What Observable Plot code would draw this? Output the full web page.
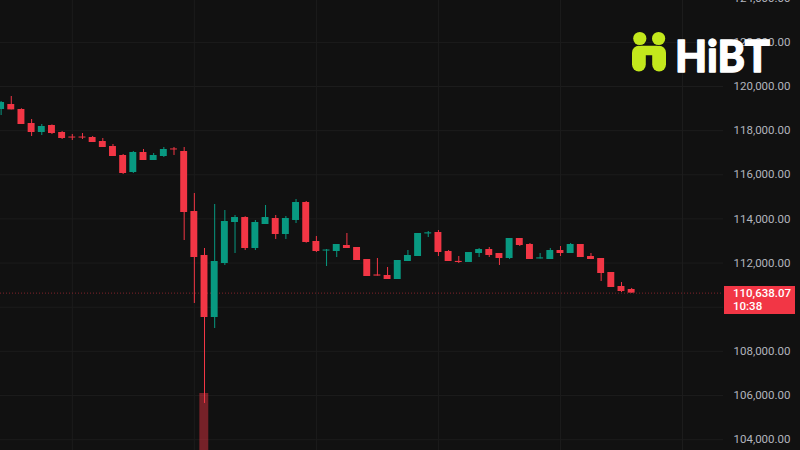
<!DOCTYPE html>
<html>
<head>
<meta charset="utf-8">
<script src="https://cdn.jsdelivr.net/npm/d3@7"></script>
<script src="https://cdn.jsdelivr.net/npm/@observablehq/plot@0.6"></script>
<style>
  html, body { margin: 0; padding: 0; background: #111111; overflow: hidden; }
  #wrap { position: relative; width: 800px; height: 450px; }
  #wrap svg { display: block; }
  #price-tag { position: absolute; left: 724px; width: 71px; height: 28px; background: #f23645;
    color: #ffffff; font-family: Roboto, "Liberation Sans", sans-serif; font-size: 11.5px; font-weight: 500;
    line-height: 13px; box-sizing: border-box; padding: 1px 0 0 9px; }
  #logo { position: absolute; left: 0; top: 0; pointer-events: none; }
</style>
</head>
<body>
<div id="wrap"></div>
<script>
// Candle data (5-minute style candles)
const opens  = [118958,119184,118958,118324,117916,118233,117916,117710,117710,117689,117508,117281,116874,116103,117010,116647,116828,117170,117055,114336,112343,109533,111980,113838,114064,112660,113747,114019,113294,113929,114744,112977,112545,112524,112796,112705,112161,111460,111437,111255,112071,112297,113320,113385,112524,112075,112026,112433,112614,112433,112207,113113,112841,112185,112161,112569,112433,112841,112297,112207,111572,110938,110802];
const highs  = [119320,119547,118990,118505,118278,118260,117961,117825,117870,117734,117644,117372,116919,117055,117146,116965,117236,117236,117236,115152,112660,114653,114382,114155,114100,113929,114608,114155,114110,114880,114790,113204,112614,112841,113340,112705,112161,112207,111799,112116,112569,113340,113430,113476,112569,112297,112478,112660,112705,112433,113113,113113,112886,112433,112660,112750,112886,112841,112433,112207,111572,111119,110850];
const lows   = [118686,118940,118278,117734,117780,117825,117598,117553,117598,117463,117236,116828,116013,116058,116647,116647,116783,116874,113022,110168,105637,109035,111890,112433,112569,112569,113747,113068,113068,113793,112900,112478,111844,112252,112660,112116,111391,111410,111255,111255,112071,112297,113158,112297,112071,111980,112026,112252,112252,111890,112161,112750,112161,112185,112161,112297,112433,112252,112161,111165,110893,110666,110638.07];
const closes = [119275,118940,118278,117916,118188,117870,117644,117665,117665,117463,117236,116828,116058,117010,116647,116874,117146,117125,114291,112252,109533,112071,113883,114064,112660,113838,114064,113294,114019,114744,112932,112524,112590,112841,112660,112116,111391,111410,111255,112116,112343,113340,113370,112478,112071,112026,112478,112614,112343,112207,113113,112796,112161,112235,112569,112433,112841,112252,112161,111527,110893,110711,110638.07];

// Price axis ticks, time grid (every 12 candles), last price
const yTicks = [104000,106000,108000,110000,112000,114000,116000,118000,120000,122000,124000];
const timeGrid = [7, 19, 31, 43, 55, 67];
const lastPrice = 110638.07;
const lastPriceLabel = "110,638.07";
const countdownLabel = "10:38";
// The only volume bar visible in the crop (drawn at the bottom of the pane)
const visibleVolume = [{i: 20, top: 106090}];

const candles = opens.map((o, i) => ({i, open: o, high: highs[i], low: lows[i], close: closes[i]}));
const UP = "#089981", DOWN = "#f23645";
const col = d => d.close >= d.open ? UP : DOWN;

const plot = Plot.plot({
  width: 800,
  height: 450,
  marginLeft: 0,
  marginRight: 77,
  marginTop: 0,
  marginBottom: 0,
  style: {background: "#111111", color: "#b2b5be", fontFamily: "Roboto, 'Liberation Sans', sans-serif", fontSize: "11.5px"},
  x: {type: "linear", domain: [-0.06, 71.03], axis: null},
  y: {domain: [103507, 123897], axis: null},
  marks: [
    Plot.gridY(yTicks, {stroke: "#1c1c1c", strokeOpacity: 1}),
    Plot.ruleX(timeGrid, {stroke: "#1c1c1c", strokeOpacity: 1}),
    Plot.rect(visibleVolume, {x1: d => d.i - 0.46, x2: d => d.i + 0.42, y1: 103000, y2: "top", fill: DOWN, fillOpacity: 0.45, clip: true}),
    Plot.ruleY([lastPrice], {stroke: DOWN, strokeOpacity: 0.5, strokeDasharray: "1,2"}),
    Plot.ruleX(candles, {x: "i", y1: "low", y2: "high", stroke: col, strokeWidth: 1}),
    Plot.rect(candles, {x1: d => d.i - 0.34, x2: d => d.i + 0.34, y1: "open", y2: "close", fill: col}),
    Plot.axisY(yTicks, {anchor: "right", tickSize: 0, tickPadding: 10, textAnchor: "start",
      tickFormat: d3.format(",.2f"), fill: "#b2b5be", label: null, fontSize: 11.5})
  ]
});

const wrap = document.getElementById("wrap");
wrap.appendChild(plot);

// Last price tag, positioned through the plot's y scale
const yPos = plot.scale("y").apply(lastPrice);
const tag = document.createElement("div");
tag.id = "price-tag";
tag.style.top = (yPos - 7) + "px";
tag.innerHTML = "<div>" + lastPriceLabel + "</div><div>" + countdownLabel + "</div>";
wrap.appendChild(tag);

// HiBT logo
const NS = "http://www.w3.org/2000/svg";
const logo = document.createElementNS(NS, "svg");
logo.setAttribute("id", "logo");
logo.setAttribute("width", 800);
logo.setAttribute("height", 100);
logo.innerHTML = `
  <g fill="#c3e81c">
    <circle cx="639.8" cy="38.5" r="6.6"/>
    <circle cx="658.6" cy="38.5" r="6.6"/>
    <rect x="632" y="45.8" width="13.8" height="25.6" rx="6.9"/>
    <rect x="652.2" y="45.8" width="13.8" height="25.6" rx="6.9"/>
    <rect x="638" y="45.8" width="22" height="9.5" rx="3"/>
  </g>
  <text x="675" y="71.5" font-family="Lato, 'DejaVu Sans', sans-serif" font-weight="900" font-size="44"
        fill="#ffffff" stroke="#ffffff" stroke-width="1.3" stroke-linejoin="round"
        textLength="95" lengthAdjust="spacingAndGlyphs">HiBT</text>`;
wrap.appendChild(logo);
</script>
</body>
</html>
